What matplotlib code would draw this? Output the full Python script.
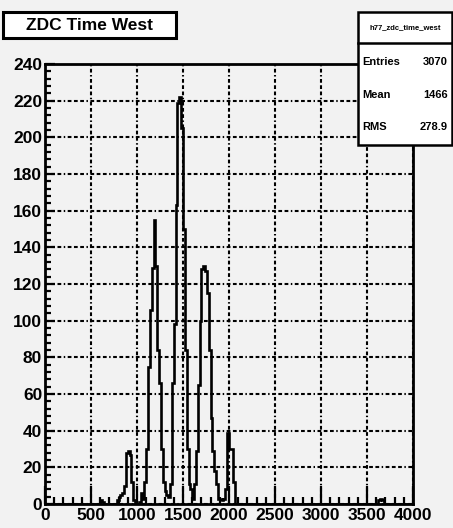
import numpy as np
import matplotlib
matplotlib.use("Agg")
import matplotlib.pyplot as plt
from matplotlib.patches import Rectangle
from matplotlib.ticker import MultipleLocator

# ---------------- data ----------------
title = "ZDC Time West"
hist_name = "h77_zdc_time_west"
stat_labels = ["Entries", "Mean", "RMS"]
stat_values = ["3070", "1466", "278.9"]

bin_width = 20
x_min, x_max = 0, 4000
# main region counts, bins starting at 780 in steps of 20
main_start = 780
main_counts = [2, 4, 5, 6, 10, 28, 29, 27, 12, 2,
               0, 0, 1, 6, 3, 12, 30, 75, 106, 129,
               155, 130, 84, 66, 30, 12, 7, 5, 4, 11,
               66, 98, 163, 219, 222, 205, 150, 84, 30, 11,
               8, 3, 11, 29, 65, 100, 128, 130, 127, 115,
               84, 47, 29, 18, 11, 3, 3, 2, 3, 8,
               39, 30, 30, 12, 0]
# isolated small entries
extra_bins = [600, 620, 3620, 3640, 3660]
extra_counts = [2, 1, 2, 3, 2]

y_max = 240

# ---------------- build histogram ----------------
edges = np.arange(x_min, x_max + bin_width, bin_width)
counts = np.zeros(len(edges) - 1)
for i, c in enumerate(main_counts):
    counts[(main_start + i * bin_width) // bin_width] = c
for b, c in zip(extra_bins, extra_counts):
    counts[b // bin_width] = c

bg = "#f2f2f2"
plt.rcParams["font.family"] = ["Liberation Sans", "DejaVu Sans"]
plt.rcParams["font.weight"] = "bold"

W, H = 453, 528
fig = plt.figure(figsize=(W / 100, H / 100), dpi=100, facecolor=bg)
ax = fig.add_axes([45 / W, (H - 504) / H, (413 - 45) / W, (504 - 64) / H])
ax.set_facecolor(bg)

ax.stairs(counts, edges, color="black", lw=1.9, baseline=0)

ax.set_xlim(x_min, x_max)
ax.set_ylim(0, y_max)

ax.xaxis.set_major_locator(MultipleLocator(500))
ax.xaxis.set_minor_locator(MultipleLocator(100))
ax.yaxis.set_major_locator(MultipleLocator(20))
ax.yaxis.set_minor_locator(MultipleLocator(4))

ax.tick_params(axis="x", which="major", direction="in", length=13, width=1.6,
               labelsize=12.5, pad=3, top=False)
ax.tick_params(axis="x", which="minor", direction="in", length=5, width=1.6, top=False)
ax.tick_params(axis="y", which="major", direction="in", length=7, width=1.6,
               labelsize=12.5, pad=2, right=False)
ax.tick_params(axis="y", which="minor", direction="in", length=4, width=1.6, right=False)
for lab in ax.get_xticklabels() + ax.get_yticklabels():
    lab.set_fontweight("bold")

ax.grid(True, which="major", color="black", lw=1.5,
        linestyle=(0, (1.8, 1.2, 1.8, 1.2, 1.8, 1.2, 0.7, 1.2)))
ax.set_axisbelow(True)

for s in ax.spines.values():
    s.set_linewidth(2.0)

# title box
fig.patches.append(Rectangle((3 / W, (H - 38) / H), (176 - 3) / W, (38 - 12) / H,
                             transform=fig.transFigure, facecolor="white",
                             edgecolor="black", lw=2.2))
fig.text((3 + 176) / 2 / W, (H - 25) / H, title, ha="center", va="center",
         fontsize=12.5, fontweight="bold")

# stats box
bx0, bx1 = 358, 452
by0, by1, bdiv = 12, 145, 43
fig.patches.append(Rectangle((bx0 / W, (H - by1) / H), (bx1 - bx0) / W, (by1 - by0) / H,
                             transform=fig.transFigure, facecolor="white",
                             edgecolor="black", lw=1.8))
fig.add_artist(plt.Line2D([bx0 / W, bx1 / W], [(H - bdiv) / H, (H - bdiv) / H],
                          transform=fig.transFigure, color="black", lw=1.8))
fig.text((bx0 + bx1) / 2 / W, (H - 28) / H, hist_name, ha="center", va="center",
         fontsize=5.5, fontweight="bold")
row_y = [62, 95, 127]
for lab, val, yy in zip(stat_labels, stat_values, row_y):
    fig.text(362 / W, (H - yy) / H, lab, ha="left", va="center",
             fontsize=8, fontweight="bold")
    fig.text(448 / W, (H - yy) / H, val, ha="right", va="center",
             fontsize=8, fontweight="bold")

fig.savefig("out.png", dpi=100, facecolor=bg)
